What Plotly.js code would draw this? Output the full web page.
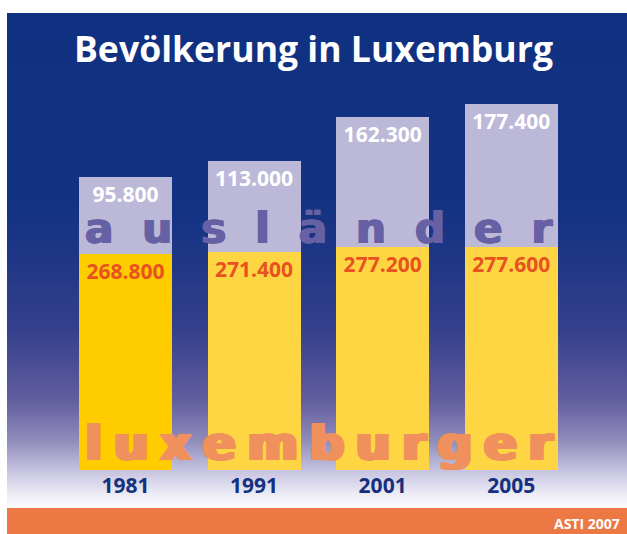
<!DOCTYPE html>
<html>
<head>
<meta charset="utf-8">
<script src="https://cdn.plot.ly/plotly-3.0.1.min.js"></script>
<style>
  html, body { margin: 0; padding: 0; background: #ffffff; }
  #wrap { position: relative; width: 627px; height: 534px; overflow: hidden; }
  #bg {
    position: absolute; left: 7px; top: 13px; width: 620px; height: 495px;
    background: linear-gradient(to bottom,
      #103181 0px, #123282 187px, #203686 247px, #34408c 317px,
      #625d9e 387px, #8f8bba 427px, #c4c2df 457px, #eeedf6 482px, #fcfcfe 495px);
  }
  #chart { position: absolute; left: 0; top: 0; width: 627px; height: 534px; }
</style>
</head>
<body>
<div id="wrap">
  <div id="bg"></div>
  <div id="chart"></div>
</div>
<script>
// ---- data ----
const years = ['1981', '1991', '2001', '2005'];
const luxemburger = [268800, 271400, 277200, 277600];
const auslaender = [95800, 113000, 162300, 177400];
const titleText = 'Bevölkerung in Luxemburg';
const wordForeign = 'ausländer';
const wordLux = 'luxemburger';
const sourceText = 'ASTI 2007';

// ---- styling ----
const W = 627, H = 534;
const plotTop = 14, plotBottom = 470;
const pxPerUnit = 0.804 / 1000;
const yMax = (plotBottom - plotTop) / pxPerUnit;
const py = p => (plotBottom - p) / (plotBottom - plotTop);
const px = p => p / W;

const yellowColors = years.map((y, i) => i === 0 ? '#ffcc00' : '#fed644');

// horizontal smear to emulate an extended heavy face
function smear(color, n) {
  const parts = [];
  for (let i = 1; i <= n; i++) parts.push(i + 'px 0 0 ' + color);
  return parts.join(', ');
}

const traces = [
  {
    type: 'bar', x: years, y: luxemburger, name: 'luxemburger',
    marker: { color: yellowColors, line: { width: 0 } },
    texttemplate: '%{y:,.0f}', textposition: 'inside', insidetextanchor: 'end',
    textangle: 0, constraintext: 'none',
    textfont: { family: 'Open Sans', size: 21, weight: 700, color: '#e8521f' },
    hoverinfo: 'skip'
  },
  {
    type: 'bar', x: years, y: auslaender, name: 'ausländer',
    marker: { color: '#bcb8d8', line: { width: 0 } },
    texttemplate: '%{y:,.0f}', textposition: 'inside', insidetextanchor: 'end',
    textangle: 0, constraintext: 'none',
    textfont: { family: 'Open Sans', size: 21, weight: 700, color: '#ffffff' },
    hoverinfo: 'skip'
  }
];

const layout = {
  width: W, height: H,
  margin: { l: 0, r: 0, t: plotTop, b: H - plotBottom, pad: 0 },
  paper_bgcolor: 'rgba(0,0,0,0)',
  plot_bgcolor: 'rgba(0,0,0,0)',
  separators: ',.',
  barmode: 'stack',
  bargap: 0.277,
  showlegend: false,
  title: {
    text: titleText,
    x: 0.5, xanchor: 'center', xref: 'paper',
    y: 1 - 50 / H, yanchor: 'middle', yref: 'container',
    font: { family: 'Open Sans', size: 35.6, weight: 700, color: '#ffffff' }
  },
  xaxis: {
    type: 'category', range: [-0.975, 3.9],
    showgrid: false, zeroline: false, showline: false, ticks: '',
    ticklabelstandoff: 1,
    tickfont: { family: 'Open Sans', size: 21, weight: 700, color: '#15307e' },
    fixedrange: true
  },
  yaxis: {
    range: [0, yMax], visible: false, showgrid: false, zeroline: false, fixedrange: true
  },
  shapes: [
    { type: 'rect', xref: 'paper', yref: 'paper', x0: px(7), x1: 1, y0: py(508), y1: py(534),
      fillcolor: '#ec7844', line: { width: 0 }, layer: 'below' }
  ],
  annotations: [
    { text: '<span style="letter-spacing:29px">' + wordForeign + '</span>',
      xref: 'paper', yref: 'paper', x: px(318), y: py(228.5), xshift: 13.5,
      xanchor: 'center', yanchor: 'middle', showarrow: false,
      font: { family: 'DejaVu Sans', size: 42, weight: 700, color: '#6660a4',
              shadow: smear('#6660a4', 2) } },
    { text: '<span style="letter-spacing:12px">' + wordLux + '</span>',
      xref: 'paper', yref: 'paper', x: px(319), y: py(443), xshift: 3.5,
      xanchor: 'center', yanchor: 'middle', showarrow: false,
      font: { family: 'DejaVu Sans', size: 48, weight: 700, color: '#f0905c',
              shadow: smear('#f0905c', 5) } },
    { text: sourceText, xref: 'paper', yref: 'paper', x: px(622), y: py(523),
      xanchor: 'right', yanchor: 'middle', showarrow: false,
      font: { family: 'Open Sans', size: 14, weight: 700, color: '#ffffff' } }
  ]
};

Plotly.newPlot('chart', traces, layout, { staticPlot: true, displayModeBar: false });
</script>
</body>
</html>
